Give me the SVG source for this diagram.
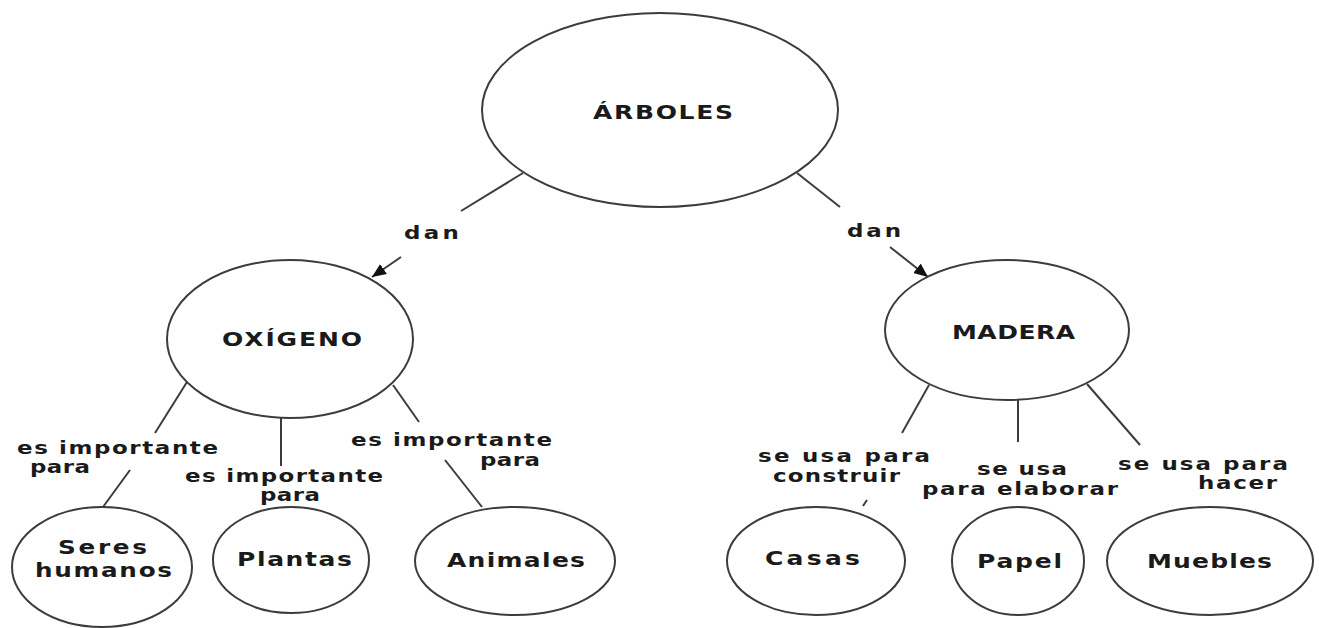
<svg xmlns="http://www.w3.org/2000/svg" width="1319" height="628" viewBox="0 0 1319 628">
<style>
.node ellipse{fill:#fff;stroke:#3c3c3c;stroke-width:2}
.t{font-family:"DejaVu Sans",Verdana,sans-serif;font-weight:bold;fill:#1a1a1a}
.nd{font-size:20px}
.nd2{font-size:19px}
.lab{font-size:17px}
.con line{stroke:#3c3c3c;stroke-width:2;fill:none}
</style>
<defs>
<marker id="ah" markerUnits="userSpaceOnUse" markerWidth="16" markerHeight="14" refX="14" refY="6" orient="auto">
<path d="M0,0 L14,6 L0,12 Z" fill="#111"/>
</marker>
</defs>
<rect width="1319" height="628" fill="#fff"/>
<g id="connectors" class="con">
<line x1="523" y1="173" x2="461" y2="211"/>
<line x1="401" y1="257" x2="372" y2="277" marker-end="url(#ah)"/>
<line x1="797" y1="173" x2="840" y2="207"/>
<line x1="890" y1="247" x2="928" y2="277" marker-end="url(#ah)"/>
<line x1="187" y1="382" x2="155" y2="433"/>
<line x1="130" y1="470" x2="103" y2="507"/>
<line x1="281" y1="418" x2="281" y2="466"/>
<line x1="393" y1="385" x2="419" y2="422"/>
<line x1="445" y1="460" x2="482" y2="507"/>
<line x1="929" y1="385" x2="902" y2="433"/>
<line x1="867" y1="500" x2="863" y2="506"/>
<line x1="1018" y1="400" x2="1018" y2="442"/>
<line x1="1087" y1="384" x2="1140" y2="445"/>
</g>
<g id="labels">
<text class="t lab" transform="translate(404,239) scale(1.35,1)" textLength="40.7" lengthAdjust="spacing">dan</text>
<text class="t lab" transform="translate(847,237) scale(1.35,1)" textLength="40" lengthAdjust="spacing">dan</text>
<text class="t lab" transform="translate(17,454) scale(1.35,1)" textLength="148.9" lengthAdjust="spacing">es importante</text>
<text class="t lab" transform="translate(30,473) scale(1.35,1)" textLength="44.4" lengthAdjust="spacing">para</text>
<text class="t lab" transform="translate(185,482) scale(1.35,1)" textLength="146.7" lengthAdjust="spacing">es importante</text>
<text class="t lab" transform="translate(260,501) scale(1.35,1)" textLength="44.4" lengthAdjust="spacing">para</text>
<text class="t lab" transform="translate(351,446) scale(1.35,1)" textLength="148.9" lengthAdjust="spacing">es importante</text>
<text class="t lab" transform="translate(480,466) scale(1.35,1)" textLength="44.4" lengthAdjust="spacing">para</text>
<text class="t lab" transform="translate(758,462) scale(1.35,1)" textLength="127.4" lengthAdjust="spacing">se usa para</text>
<text class="t lab" transform="translate(773,482) scale(1.35,1)" textLength="94.1" lengthAdjust="spacing">construir</text>
<text class="t lab" transform="translate(977,475) scale(1.35,1)" textLength="66.7" lengthAdjust="spacing">se usa</text>
<text class="t lab" transform="translate(922,495) scale(1.35,1)" textLength="145.2" lengthAdjust="spacing">para elaborar</text>
<text class="t lab" transform="translate(1118,470) scale(1.35,1)" textLength="125.9" lengthAdjust="spacing">se usa para</text>
<text class="t lab" transform="translate(1198,489) scale(1.35,1)" textLength="58.5" lengthAdjust="spacing">hacer</text>
</g>
<g id="arboles" class="node">
<ellipse cx="660" cy="110" rx="178" ry="97"/>
<text class="t nd" transform="translate(593,119) scale(1.25,1)" textLength="112" lengthAdjust="spacing">ÁRBOLES</text>
</g>
<g id="oxigeno" class="node">
<ellipse cx="290" cy="339" rx="123" ry="79"/>
<text class="t nd" transform="translate(222,346) scale(1.25,1)" textLength="112" lengthAdjust="spacing">OXÍGENO</text>
</g>
<g id="madera" class="node">
<ellipse cx="1007" cy="330" rx="122" ry="70"/>
<text class="t nd" transform="translate(952,339) scale(1.25,1)" textLength="98.4" lengthAdjust="spacing">MADERA</text>
</g>
<g id="seres" class="node">
<ellipse cx="102" cy="567" rx="90" ry="60"/>
<text class="t nd2" transform="translate(58,554) scale(1.3,1)" textLength="68.5" lengthAdjust="spacing">Seres</text>
<text class="t nd2" transform="translate(35,577) scale(1.3,1)" textLength="105.4" lengthAdjust="spacing">humanos</text>
</g>
<g id="plantas" class="node">
<ellipse cx="291" cy="560" rx="78" ry="53"/>
<text class="t nd" transform="translate(237,566) scale(1.25,1)" textLength="92" lengthAdjust="spacing">Plantas</text>
</g>
<g id="animales" class="node">
<ellipse cx="515" cy="561" rx="100" ry="54"/>
<text class="t nd" transform="translate(447,567) scale(1.25,1)" textLength="110.4" lengthAdjust="spacing">Animales</text>
</g>
<g id="casas" class="node">
<ellipse cx="816" cy="561" rx="89" ry="54"/>
<text class="t nd" transform="translate(765,565) scale(1.25,1)" textLength="76" lengthAdjust="spacing">Casas</text>
</g>
<g id="papel" class="node">
<ellipse cx="1018" cy="561" rx="66" ry="54"/>
<text class="t nd" transform="translate(977,568) scale(1.25,1)" textLength="68" lengthAdjust="spacing">Papel</text>
</g>
<g id="muebles" class="node">
<ellipse cx="1210" cy="561" rx="103" ry="54"/>
<text class="t nd" transform="translate(1147,568) scale(1.25,1)" textLength="100" lengthAdjust="spacing">Muebles</text>
</g>
</svg>
